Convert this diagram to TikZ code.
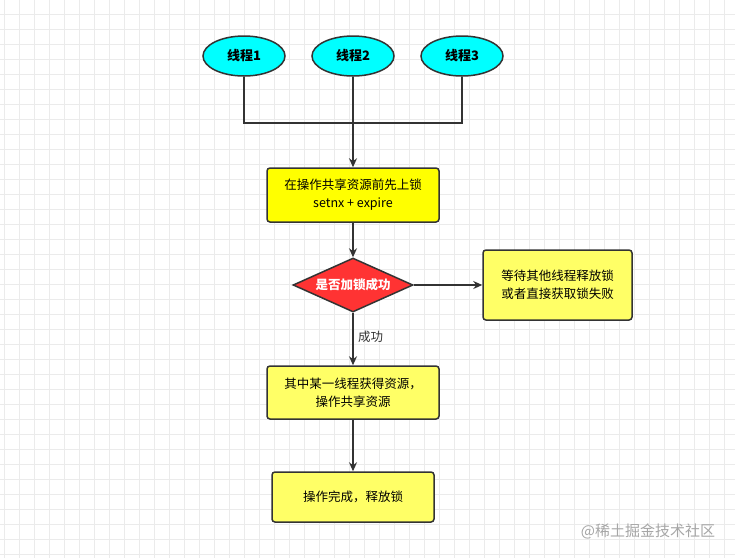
\documentclass[tikz,border=0pt]{standalone}
\usepackage{fontspec}
\newfontfamily\cjk{Noto Sans CJK SC}
\setmainfont{Noto Sans CJK SC}
\usetikzlibrary{shapes.geometric,arrows.meta}
\definecolor{linec}{HTML}{333333}
\definecolor{gridc}{HTML}{EBEBEB}
\definecolor{cyanf}{HTML}{00FFFF}
\definecolor{yellowf}{HTML}{FFFF00}
\definecolor{lyellow}{HTML}{FFFF66}
\definecolor{redf}{HTML}{FF3333}
\tikzset{
  thread/.style={ellipse, draw=linec, line width=1.5pt, fill=cyanf, minimum width=82pt, minimum height=40pt, inner sep=0pt, font=\fontsize{13}{15}\selectfont\bfseries},
  boxa/.style={rectangle, rounded corners=3pt, draw=linec, line width=1.5pt, fill=yellowf, inner sep=0pt, align=center, font=\fontsize{12.5}{18}\selectfont},
  boxb/.style={boxa, fill=lyellow},
  decide/.style={diamond, aspect=2.22, draw=linec, line width=1.5pt, fill=redf, inner sep=0pt, minimum width=120pt, minimum height=54pt, text=white, font=\fontsize{12.5}{15}\selectfont\bfseries},
  conn/.style={draw=linec, line width=1.5pt},
  arr/.style={conn, -{Stealth[length=9pt,width=8pt]}},
}
\begin{document}
\begin{tikzpicture}[x=1pt,y=-1pt]
\useasboundingbox (0,0) rectangle (735,558);
\fill[white] (0,0) rectangle (735,558);
\foreach \i in {0,...,49} {\draw[gridc, line width=0.8pt] (4+15*\i,0) -- (4+15*\i,558);}
\foreach \j in {0,...,37} {\draw[gridc, line width=0.8pt] (0,-1+15*\j) -- (735,-1+15*\j);}
\node[thread] (t1) at (244,56) {线程1};
\node[thread] (t2) at (353,56) {线程2};
\node[thread] (t3) at (462,56) {线程3};
\coordinate (j1) at (244,123);
\coordinate (j2) at (353,123);
\coordinate (j3) at (462,123);
\node[boxa, minimum width=172pt, minimum height=54pt] (b1) at (353,195) {在操作共享资源前先上锁\\setnx + expire};
\node[decide] (d) at (353,285) {是否加锁成功};
\node[boxb, minimum width=149pt, minimum height=70pt] (fail) at (557.5,285) {等待其他线程释放锁\\或者直接获取锁失败};
\node[boxb, minimum width=172pt, minimum height=53pt] (b3) at (353,392.5) {其中某一线程获得资源，\\操作共享资源};
\node[boxb, minimum width=162pt, minimum height=50pt] (b4) at (353,497) {操作完成，释放锁};
\draw[conn] (t1.south) -- (j1) -- (j3) -- (t3.south);
\draw[conn] (t2.south) -- (j2);
\draw[arr] (j2) -- (b1.north);
\draw[arr] (b1.south) -- (d.north);
\draw[arr] (d.east) -- (fail.west);
\draw[arr] (d.south) -- node[pos=0.45, right, xshift=1pt, text=linec, font=\fontsize{12.5}{14}\selectfont] (lbl) {成功} (b3.north);
\draw[arr] (b3.south) -- (b4.north);
\node[text=black!35, font=\fontsize{15}{17}\selectfont] (wm) at (648,531) {@稀土掘金技术社区};
\end{tikzpicture}
\end{document}
